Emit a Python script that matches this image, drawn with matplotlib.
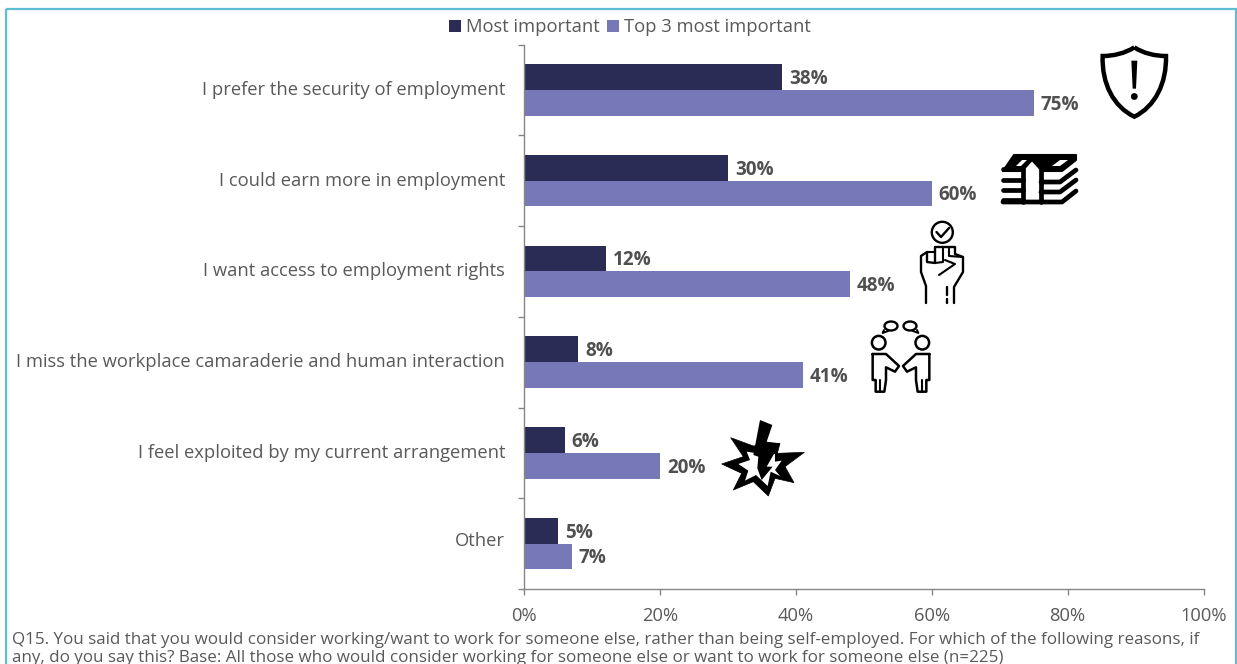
import matplotlib
matplotlib.use("Agg")
import matplotlib.pyplot as plt
from matplotlib.patches import Rectangle, Polygon, Circle, Ellipse, PathPatch
from matplotlib.path import Path
from matplotlib.ticker import PercentFormatter
from matplotlib.transforms import ScaledTranslation

categories = ["I prefer the security of employment", "I could earn more in employment",
              "I want access to employment rights",
              "I miss the workplace camaraderie and human interaction",
              "I feel exploited by my current arrangement", "Other"]
most_important = [38, 30, 12, 8, 6, 5]
top_three = [75, 60, 48, 41, 20, 7]
series_names = ["Most important", "Top 3 most important"]
footer = ("Q15. You said that you would consider working/want to work for someone else, rather than being self-employed. For which of the following reasons, if\n"
          "any, do you say this? Base: All those who would consider working for someone else or want to work for someone else (n=225)")
x_ticks = [0, 20, 40, 60, 80, 100]

DARK, LIGHT, GREY, AXIS, FRAME = "#2b2c56", "#7778b8", "#595959", "#868686", "#5fbdd3"
W, H = 1237, 664
plt.rcParams["font.family"] = ["Open Sans", "DejaVu Sans"]

fig = plt.figure(figsize=(W / 100, H / 100), dpi=100, facecolor="white")
ax = fig.add_axes([524 / W, 1 - 589 / H, 679.5 / W, 544.5 / H])
ypos = list(range(len(categories)))
bh = 0.283
b1 = ax.barh([y - bh / 2 for y in ypos], most_important, bh, color=DARK, label=series_names[0])
b2 = ax.barh([y + bh / 2 for y in ypos], top_three, bh, color=LIGHT, label=series_names[1])
for bars, vals in ((b1, most_important), (b2, top_three)):
    for r, v in zip(bars, vals):
        ax.annotate(f"{v}%", (v, r.get_y() + r.get_height() / 2), xytext=(5.0, -1.4),
                    textcoords="offset points", va="center", ha="left",
                    fontsize=13.6, fontweight="bold", color="#505050")
ax.set_xlim(0, 100)
ax.set_ylim(5.5, -0.5)
ax.set_yticks(ypos, categories)
ax.set_yticks([y - 0.5 for y in ypos] + [5.5], minor=True)
ax.tick_params(axis="y", which="major", length=0, pad=13.5, labelsize=13.2, labelcolor=GREY)
ax.tick_params(axis="y", which="minor", length=4.3, width=1, color=AXIS)
ax.set_xticks(x_ticks)
ax.xaxis.set_major_formatter(PercentFormatter(decimals=0))
ax.tick_params(axis="x", length=4.3, width=1, color=AXIS, pad=8.8, labelsize=13.2, labelcolor=GREY)
for s in ("top", "right"):
    ax.spines[s].set_visible(False)
for s in ("left", "bottom"):
    ax.spines[s].set_color(AXIS)
    ax.spines[s].set_linewidth(1)
for lbl, dy in zip(ax.get_yticklabels(), [1.2, 1.2, 1.6, 1.6, 1.6, 3.0]):
    lbl.set_transform(lbl.get_transform() + ScaledTranslation(0, dy / 72, fig.dpi_scale_trans))

fig.legend(handles=[b1, b2], loc="center", bbox_to_anchor=(630 / W, 1 - 27.5 / H), ncol=2, frameon=False,
           fontsize=13.2, labelcolor=GREY, handlelength=0.65, handleheight=0.65,
           handletextpad=0.28, columnspacing=0.38, borderpad=0, borderaxespad=0)

# overlay in pixel coordinates for the frame, footer and pictograms
ov = fig.add_axes([0, 0, 1, 1], zorder=5)
ov.set_xlim(0, W)
ov.set_ylim(H, 0)
ov.axis("off")
ov.add_patch(Rectangle((5.5, 9), 1230, 680, fill=False, ec=FRAME, lw=1.6))
ov.text(12, 640.5, footer.split("\n")[0], fontsize=12.25, color=GREY, va="center", ha="left")
ov.text(12, 657.5, footer.split("\n")[1], fontsize=12.27, color=GREY, va="center", ha="left")

K = "black"
LW = 3.2
def zc(pts, ox, oy):
    return [(ox + x / 3, oy + y / 3) for x, y in pts]
def curve(verts, ox, oy, **kw):
    v = zc(verts, ox, oy)
    codes = [Path.MOVETO] + [Path.CURVE4] * (len(v) - 1)
    ov.add_patch(PathPatch(Path(v, codes), **kw))
def line(pts, lw=1.7, col=K):
    ov.plot([p[0] for p in pts], [p[1] for p in pts], color=col, lw=lw,
            solid_capstyle="round", solid_joinstyle="round")

# shield
curve([(853, 142), (825, 160), (790, 168), (758, 168), (755, 250), (790, 320), (853, 350),
       (915, 320), (950, 250), (948, 168), (915, 168), (880, 160), (853, 142)], 850, 0,
      fc="white", ec=K, lw=LW)
ov.add_patch(Polygon(zc([(844, 182), (862, 182), (858, 266), (848, 266)], 850, 0), fc=K, ec="none"))
ov.add_patch(Circle((1134.3, 96.5), 3.4, fc=K, ec="none"))

# banknotes
ov.add_patch(Polygon([(1014, 155), (1076, 155), (1076, 160), (1062, 171), (1042, 171), (1032, 160),
                      (1022, 171), (1003, 171)], fc=K, ec=K, lw=1.5, joinstyle="round"))
ov.add_patch(Polygon([(1016, 166), (1022, 160), (1027, 160), (1021, 166)], fc="white", ec="none"))
ov.add_patch(Polygon([(1052, 166), (1060, 160), (1068, 160), (1060, 166)], fc="white", ec="none"))
for y in (169, 180, 190, 200):
    line([(1003, y), (1023, y)], lw=3.4)
line([(1023, 170), (1023, 202)], lw=3.4)
line([(1041, 170), (1041, 202)], lw=3.4)
line([(1003, 202), (1062, 202), (1076, 191)], lw=3.4)
line([(1041, 182), (1060, 182), (1076, 170)], lw=3.4)
line([(1041, 192), (1060, 192), (1076, 180)], lw=3.4)

# raised fist with a tick
ov.add_patch(Circle((942.3, 232.3), 10.5, fc="white", ec=K, lw=1.7))
line([(936.5, 232), (941, 237), (949, 228)], lw=1.7)
line([(926, 303), (926, 286), (921, 272), (921, 256), (927, 252), (927, 262), (935, 263), (935, 247),
      (955, 247), (955, 254), (963, 257), (963, 272), (954, 287), (954, 303)], lw=1.7)
line([(927, 252), (935, 252)], lw=1.5)
line([(943, 247), (943, 262), (935, 263)], lw=1.5)
line([(949, 247), (949, 256), (963, 257)], lw=1.5)
line([(939, 275), (955, 264), (945, 260)], lw=1.5)
line([(947, 287), (947, 295)], lw=1.7)
line([(947, 299), (947, 303)], lw=1.7)

# two people talking
for cx in (878.7, 922.3):
    ov.add_patch(Circle((cx, 342.7), 6.8, fc="white", ec=K, lw=1.8))
for cx, tail in ((891, 884), (910, 917)):
    ov.add_patch(Ellipse((cx, 326), 13, 9, fc="white", ec=K, lw=1.7))
    line([(tail, 330), (tail - (cx - tail) * 0.2, 333), (tail + (cx - tail) * 0.6, 331)], lw=1.4)
body = [(518, 132), (558, 132), (597, 168), (585, 185), (558, 172), (558, 210), (553, 245), (527, 245),
        (527, 210), (518, 210), (518, 132)]
line(zc(body, 700, 310), lw=1.8)
line(zc([(2 * 603 - x, y) for x, y in body], 700, 310), lw=1.8)
line(zc([(540, 245), (540, 210)], 700, 310), lw=1.5)
line(zc([(666, 245), (666, 210)], 700, 310), lw=1.5)

# explosion with lightning
star = [(65, 462), (130, 440), (92, 383), (160, 408), (240, 400), (232, 430), (313, 427), (255, 470), (282, 518),
        (225, 505), (205, 558), (160, 515), (100, 540), (125, 490)]
ov.add_patch(Polygon(zc(star, 700, 310), fc=K, ec=K, lw=0.5))
inner = [(115, 462), (150, 450), (140, 425), (172, 430), (225, 432), (225, 455), (245, 452), (225, 480), (240, 498),
         (212, 485), (203, 528), (168, 495), (135, 512), (145, 482)]
ov.add_patch(Polygon(zc(inner, 700, 310), fc="white", ec="none"))
bolt = [(180, 330), (217, 345), (200, 395), (240, 400), (200, 470), (218, 470), (185, 510), (172, 475),
        (175, 440), (160, 435)]
ov.add_patch(Polygon(zc(bolt, 700, 310), fc=K, ec="none"))

fig.savefig("out.png", dpi=100)
